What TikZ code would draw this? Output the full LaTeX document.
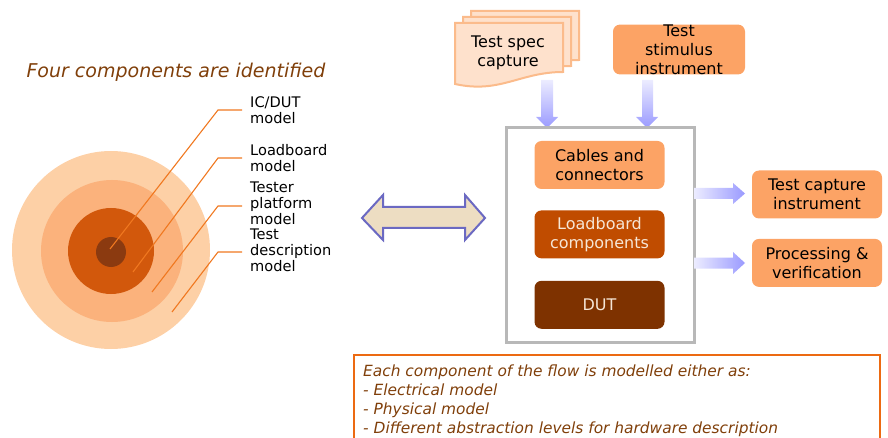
\documentclass[tikz,border=0pt]{standalone}
\usepackage{fontspec}
\setmainfont{DejaVu Sans}
\usetikzlibrary{positioning}
\definecolor{titlebrown}{HTML}{803F0A}
\definecolor{ringout}{HTML}{FDD0A6}
\definecolor{ringtwo}{HTML}{FBB27C}
\definecolor{ringthree}{HTML}{D2580C}
\definecolor{ringcore}{HTML}{8B3A10}
\definecolor{leadorange}{HTML}{F07820}
\definecolor{boxorange}{HTML}{FCA365}
\definecolor{boxrust}{HTML}{C04C00}
\definecolor{boxbrown}{HTML}{7E3200}
\definecolor{boxtext}{HTML}{F6E6D6}
\definecolor{docfill}{HTML}{FEE1CC}
\definecolor{docedge}{HTML}{FBBB8B}
\definecolor{lav}{HTML}{9A9AFF}
\definecolor{lavlight}{HTML}{ECECFF}
\definecolor{dblfill}{HTML}{EDDDC2}
\definecolor{dbledge}{HTML}{6B69C2}
\definecolor{framegray}{HTML}{B8B8B8}
\definecolor{noteorange}{HTML}{EC6A12}

\begin{document}
\begin{tikzpicture}[x=1pt,y=-1pt,
  lbl/.style={anchor=north west,inner sep=0,align=left,font=\fontsize{14.6}{16}\selectfont},
  blk/.style={rounded corners=7pt,minimum width=130pt,minimum height=48pt,inner sep=0,
    align=center,font=\fontsize{16}{19}\selectfont},
  ldr/.style={draw=leadorange,line width=1.1pt},
  docshape/.style={fill=docfill,draw=docedge,line width=2pt}]
\useasboundingbox (0,0) rectangle (888,438);
\clip (0,0) rectangle (888,438);
% left: nested model rings
\node (title) at (176,72) {\fontsize{19}{22}\selectfont\itshape\color{titlebrown}Four components are identified};
\fill[ringout] (111,250) circle (99pt);
\fill[ringtwo] (112,251) circle (71pt);
\fill[ringthree] (111,251) circle (43pt);
\fill[ringcore] (111,252) circle (15pt);
\node[lbl] (l1) at (250,96) {IC/DUT\\model};
\node[lbl] (l2) at (250,144) {Loadboard\\model};
\node[lbl] (l3) at (250,182) {Tester\\platform\\model};
\node[lbl] (l4) at (250,229) {Test\\description\\model};
\coordinate (p1) at (110,249);
\coordinate (p2) at (133,272);
\coordinate (p3) at (152,292);
\coordinate (p4) at (172,312);
\coordinate (k1) at (242,110);
\coordinate (k2) at (242,158);
\coordinate (k3) at (242,206);
\coordinate (k4) at (242,252);
\draw[ldr] (p1) -- (218,110) -- (k1);
\draw[ldr] (p2) -- (218,158) -- (k2);
\draw[ldr] (p3) -- (218,206) -- (k3);
\draw[ldr] (p4) -- (218,252) -- (k4);
% double arrow
\draw[fill=dblfill,draw=dbledge,line width=2pt] (362,218) -- (383,195) -- (383,207) -- (465,207) -- (465,195)
  -- (485,218) -- (465,240) -- (465,228) -- (383,228) -- (383,240) -- cycle;
% test spec documents
\foreach \dx/\dy in {16/-12,8/-6,0/0}
  \draw[docshape,shift={(\dx,\dy)}] (455,23) -- (563,23) -- (563,72) .. controls (520,72) and (500,94) .. (455,84) -- cycle;
\node[inner sep=0,align=center,font=\fontsize{16}{19}\selectfont] (spec) at (508,53) {Test spec\\capture};
\node[blk,fill=boxorange,minimum width=132pt,minimum height=49pt] (stim) at (679,49.5) {Test\\stimulus\\instrument};
% down arrows
\shade[top color=lavlight,bottom color=lav] (541,80) -- (553,80) -- (553,117) -- (558,117) -- (547,128)
  -- (536,117) -- (541,117) -- cycle;
\shade[top color=lavlight,bottom color=lav] (642,80) -- (653,80) -- (653,117) -- (658,117) -- (647,128)
  -- (636,117) -- (642,117) -- cycle;
% test set-up frame
\draw[framegray,line width=3pt] (506,128) rectangle (694,342);
\node[blk,fill=boxorange] (cables) at (599.5,165) {Cables and\\connectors};
\node[blk,fill=boxrust,text=boxtext,below=21pt of cables] (lb) {Loadboard\\components};
\node[blk,fill=boxbrown,text=boxtext,below=22pt of lb] (dut) {DUT};
% outputs
\shade[left color=lavlight,right color=lav] (694,188) -- (733,188) -- (733,183) -- (745,193.5) -- (733,204)
  -- (733,199) -- (694,199) -- cycle;
\shade[left color=lavlight,right color=lav] (694,257.5) -- (733,257.5) -- (733,252) -- (745,263) -- (733,274)
  -- (733,268.5) -- (694,268.5) -- cycle;
\node[blk,fill=boxorange] (capt) at (817,194.5) {Test capture\\instrument};
\node[blk,fill=boxorange,below=20pt of capt] (proc) {Processing \&\\verification};
% note
\draw[noteorange,line width=2.5pt] (354,450) -- (354,355) -- (880,355) -- (880,450);
\node[anchor=north west,inner sep=0,align=left,text=titlebrown,
  font=\fontsize{15.4}{19}\selectfont\itshape] (note) at (363,365)
  {Each component of the flow is modelled either as:\\- Electrical model\\- Physical model\\- Different abstraction levels for hardware description};
\end{tikzpicture}
\end{document}
